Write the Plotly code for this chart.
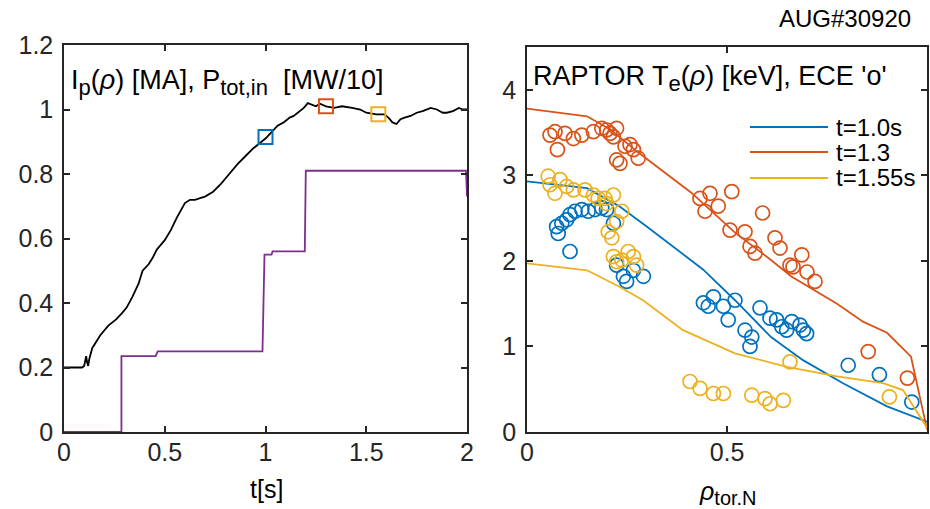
import plotly.graph_objects as go

# ---------------- data: left panel ----------------
ip_t = [0, 0.09, 0.10, 0.11, 0.115, 0.12, 0.125, 0.14, 0.16, 0.18, 0.22, 0.26, 0.29, 0.31,
        0.34, 0.37, 0.39, 0.42, 0.44, 0.46, 0.50, 0.53, 0.56, 0.58, 0.60, 0.625, 0.65, 0.675,
        0.70, 0.74, 0.78, 0.82, 0.86, 0.90, 0.94, 0.98, 1.00, 1.03, 1.06, 1.09, 1.12, 1.14,
        1.16, 1.19, 1.21, 1.23, 1.25, 1.27, 1.30, 1.34, 1.38, 1.43, 1.47, 1.50, 1.55, 1.59,
        1.61, 1.63, 1.65, 1.67, 1.69, 1.72, 1.75, 1.78, 1.82, 1.85, 1.88, 1.90, 1.93, 1.96,
        1.98, 2.0]
ip_val = [0.2, 0.2, 0.205, 0.235, 0.215, 0.205, 0.225, 0.26, 0.28, 0.30, 0.33, 0.35, 0.37, 0.385,
          0.42, 0.46, 0.50, 0.52, 0.54, 0.565, 0.595, 0.626, 0.665, 0.69, 0.71, 0.72, 0.72, 0.725,
          0.73, 0.745, 0.77, 0.80, 0.83, 0.855, 0.88, 0.90, 0.91, 0.93, 0.95, 0.96, 0.975, 0.98,
          0.99, 1.005, 1.02, 1.015, 1.01, 1.018, 1.01, 1.005, 1.01, 1.005, 1.0, 0.99, 0.985, 0.985,
          0.975, 0.96, 0.955, 0.97, 0.975, 0.98, 0.99, 0.995, 1.005, 1.0, 0.99, 0.99, 0.995, 1.005,
          1.0, 1.0]

p_t = [0, 0.285, 0.285, 0.455, 0.465, 0.985, 0.995, 1.03, 1.035, 1.195, 1.2, 1.995, 2.0]
p_val = [0, 0, 0.235, 0.235, 0.25, 0.25, 0.55, 0.55, 0.56, 0.56, 0.81, 0.81, 0.73]

sq_t = [1.0, 1.3, 1.56]
sq_ip = [0.915, 1.01, 0.985]

# ---------------- data: right panel ----------------
rho_red = [0, 0.15, 0.21, 0.28, 0.41, 0.52, 0.61, 0.66, 0.775, 0.84, 0.90, 0.96, 1.0]
te_red = [3.78, 3.69, 3.53, 3.26, 2.80, 2.33, 2.01, 1.82, 1.50, 1.29, 1.16, 0.88, 0.03]
rho_blue = [0, 0.15, 0.23, 0.30, 0.44, 0.52, 0.61, 0.69, 0.79, 0.90, 1.0]
te_blue = [2.93, 2.85, 2.64, 2.40, 1.90, 1.54, 1.11, 0.84, 0.57, 0.30, 0.12]
rho_yel = [0, 0.15, 0.23, 0.29, 0.39, 0.52, 0.65, 0.775, 0.89, 0.94, 1.0]
te_yel = [1.97, 1.89, 1.70, 1.54, 1.19, 0.92, 0.76, 0.65, 0.57, 0.49, 0.05]

ece_rho_red = [0.0575, 0.07, 0.076, 0.095, 0.116, 0.137, 0.166, 0.187, 0.199, 0.2075, 0.216,
               0.224, 0.224, 0.2325, 0.245, 0.2575, 0.266, 0.278, 0.4325, 0.4575, 0.445, 0.478,
               0.512, 0.5075, 0.545, 0.5575, 0.57, 0.589, 0.62, 0.6325, 0.6575, 0.687, 0.665,
               0.70, 0.72, 0.853, 0.951]
ece_te_red = [3.47, 3.51, 3.30, 3.49, 3.43, 3.47, 3.51, 3.55, 3.53, 3.49, 3.45,
              3.55, 3.18, 3.14, 3.34, 3.36, 3.30, 3.20, 2.73, 2.79, 2.58, 2.64,
              2.81, 2.36, 2.34, 2.17, 2.09, 2.56, 2.27, 2.15, 1.95, 2.07, 1.93,
              1.87, 1.76, 0.94, 0.63]
ece_rho_blue = [0.074, 0.078, 0.087, 0.099, 0.1075, 0.12, 0.137, 0.153, 0.17, 0.187, 0.199,
                0.1075, 0.216, 0.224, 0.241, 0.249, 0.291, 0.266, 0.441, 0.453, 0.466, 0.491,
                0.52, 0.503, 0.545, 0.562, 0.5575, 0.5825, 0.6075, 0.624, 0.637, 0.649, 0.662,
                0.6825, 0.691, 0.699, 0.803, 0.881, 0.962]
ece_te_blue = [2.40, 2.32, 2.44, 2.48, 2.54, 2.58, 2.60, 2.58, 2.60, 2.62, 2.60,
               2.11, 2.44, 1.95, 1.82, 1.76, 1.82, 1.89, 1.51, 1.47, 1.58, 1.47,
               1.54, 1.31, 1.19, 1.11, 1.00, 1.45, 1.33, 1.31, 1.23, 1.19, 1.29,
               1.25, 1.19, 1.15, 0.78, 0.67, 0.35]
ece_rho_yel = [0.053, 0.0575, 0.07, 0.0825, 0.099, 0.116, 0.145, 0.166, 0.178, 0.195, 0.216,
               0.199, 0.237, 0.203, 0.212, 0.224, 0.216, 0.237, 0.253, 0.266, 0.224, 0.274,
               0.4075, 0.4325, 0.466, 0.491, 0.562, 0.595, 0.6075, 0.641, 0.6575, 0.906]
ece_te_yel = [2.99, 2.89, 2.79, 2.95, 2.87, 2.83, 2.83, 2.77, 2.73, 2.73, 2.77,
              2.67, 2.58, 2.34, 2.27, 2.46, 2.05, 2.01, 2.11, 2.05, 1.99, 1.95,
              0.59, 0.51, 0.45, 0.45, 0.43, 0.39, 0.33, 0.37, 0.82, 0.41]

legend_labels = ["t=1.0s", "t=1.3", "t=1.55s"]

left_yticks = [0, 0.2, 0.4, 0.6, 0.8, 1, 1.2]
left_xticks = [0, 0.5, 1, 1.5, 2]
right_yticks = [0, 1, 2, 3, 4]
right_xticks = [0, 0.5, 1]

# ---------------- styling ----------------
BLUE, RED, YEL, PUR = "#0072BD", "#D95319", "#EDB120", "#7E2F8E"
AX = "#262626"
FONT = "Liberation Sans, Arial, sans-serif"
W, H = 930, 509
FS = 24        # legend / labels
FS_TICK = 25
FS_TITLE = 27
LW = 1.8

def px(x):
    return x / W

def py(y):
    return 1 - y / H

def sub(s, size):
    return f"<sub><span style='font-size:{size}px'>{s}</span></sub>"

fig = go.Figure()

fig.add_trace(go.Scatter(x=ip_t, y=ip_val, mode="lines", line=dict(color="black", width=LW),
                         xaxis="x", yaxis="y", showlegend=False))
fig.add_trace(go.Scatter(x=p_t, y=p_val, mode="lines", line=dict(color=PUR, width=LW),
                         xaxis="x", yaxis="y", showlegend=False))
fig.add_trace(go.Scatter(x=sq_t, y=sq_ip, mode="markers",
                         marker=dict(symbol="square-open", size=14, color=[BLUE, RED, YEL],
                                     line=dict(width=2, color=[BLUE, RED, YEL])),
                         xaxis="x", yaxis="y", showlegend=False))

for rx, ry, ex, ey, c in [(rho_blue, te_blue, ece_rho_blue, ece_te_blue, BLUE),
                          (rho_red, te_red, ece_rho_red, ece_te_red, RED),
                          (rho_yel, te_yel, ece_rho_yel, ece_te_yel, YEL)]:
    fig.add_trace(go.Scatter(x=rx, y=ry, mode="lines", line=dict(color=c, width=LW),
                             xaxis="x2", yaxis="y2", showlegend=False))
    fig.add_trace(go.Scatter(x=ex, y=ey, mode="markers",
                             marker=dict(symbol="circle-open", size=14, color=c,
                                         line=dict(width=1.7, color=c)),
                             xaxis="x2", yaxis="y2", showlegend=False))

axis_common = dict(showline=True, linecolor=AX, linewidth=1.5, mirror="ticks", ticks="inside",
                   ticklen=6, tickwidth=1.5, tickcolor=AX, showgrid=False, zeroline=False,
                   automargin=False, tickfont=dict(family=FONT, size=FS_TICK, color=AX))

fig.update_layout(
    width=W, height=H, margin=dict(l=0, r=0, t=0, b=0, pad=0, autoexpand=False),
    autosize=False, showlegend=False,
    paper_bgcolor="white", plot_bgcolor="white",
    font=dict(family=FONT, size=FS, color=AX),
    xaxis=dict(domain=[px(64), px(467)], range=[0, 2], tickvals=left_xticks,
               ticktext=[f"{v:g}" for v in left_xticks], anchor="y", ticklabelstandoff=-3,
               **axis_common),
    yaxis=dict(domain=[py(432), py(45)], range=[0, 1.2], tickvals=left_yticks,
               ticktext=[f"{v:g}" for v in left_yticks], anchor="x", ticklabelstandoff=4,
               **axis_common),
    xaxis2=dict(domain=[px(527), px(927)], range=[0, 1], tickvals=right_xticks,
                ticktext=[f"{v:g}" for v in right_xticks], anchor="y2", ticklabelstandoff=-3,
                **axis_common),
    yaxis2=dict(domain=[py(432), py(47)], range=[0, 4.5], tickvals=right_yticks,
                ticktext=[f"{v:g}" for v in right_yticks], anchor="x2", ticklabelstandoff=4,
                **axis_common),
)

ann = [
    dict(text=f"I{sub('p', 22)}(<i>ρ</i>) [MA], P{sub('tot,in', 22)}\u00a0 [MW/10]", x=px(69),
         y=py(82), xanchor="left", yanchor="middle", size=FS_TITLE),
    dict(text=f"RAPTOR T{sub('e', 22)}(<i>ρ</i>) [keV], ECE 'o'", x=px(531), y=py(78),
         xanchor="left", yanchor="middle", size=FS_TITLE),
    dict(text="AUG#30920", x=px(913), y=py(18), xanchor="right", yanchor="middle", size=FS),
    dict(text="t[s]", x=px(266), y=py(489), xanchor="center", yanchor="middle", size=FS_TICK),
    dict(text=f"<i>ρ</i>{sub('tor.N', 20)}", x=px(728), y=py(493), xanchor="center",
         yanchor="middle", size=FS_TICK),
]
for a in ann:
    size = a.pop("size")
    fig.add_annotation(xref="paper", yref="paper", showarrow=False,
                       font=dict(family=FONT, size=size, color="black"), **a)

# legend (drawn manually to get long line samples)
leg_y = [127, 152, 178]
for lab, c, yy in zip(legend_labels, [BLUE, RED, YEL], leg_y):
    fig.add_shape(type="line", xref="paper", yref="paper", x0=px(750), x1=px(828),
                  y0=py(yy), y1=py(yy), line=dict(color=c, width=2))
    fig.add_annotation(xref="paper", yref="paper", x=px(834), y=py(yy), text=lab,
                       showarrow=False, xanchor="left", yanchor="middle",
                       font=dict(family=FONT, size=FS, color="black"))

fig.write_html("out.html")
